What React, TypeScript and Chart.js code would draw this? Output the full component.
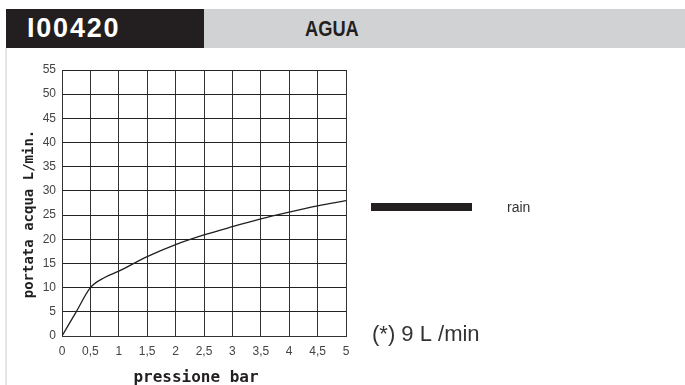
import React, { useEffect, useRef } from "react";
import { Chart, registerables } from "chart.js";

Chart.register(...registerables);

const CODE = "I00420";
const FLUID = "AGUA";
const SERIES_LABEL = "rain";
const NOTE = "(*) 9 L /min";
const X_TITLE = "pressione bar";
const Y_TITLE = "portata acqua L/min.";

const pressure = [0, 0.25, 0.5, 0.75, 1, 1.5, 2, 2.5, 3, 3.5, 4, 4.5, 5];
const flow = [0, 5, 10, 12.1, 13.4, 16.4, 18.9, 20.9, 22.6, 24.2, 25.6, 26.9, 28];

const xTickLabels = ["0", "0,5", "1", "1,5", "2", "2,5", "3", "3,5", "4", "4,5", "5"];
const yTicks = [0, 5, 10, 15, 20, 25, 30, 35, 40, 45, 50, 55];

const INK = "#231f20";

const overlayPlugin = {
  id: "overlay",
  afterDraw(chart: any) {
    const { ctx, chartArea } = chart;
    const midY = (chartArea.top + chartArea.bottom) / 2;
    const midX = (chartArea.left + chartArea.right) / 2;
    // y-axis title
    ctx.save();
    ctx.translate(chartArea.left - 33, midY + 11);
    ctx.rotate(-Math.PI / 2);
    ctx.font = 'bold 14px "DejaVu Sans Mono"';
    ctx.textAlign = "center";
    ctx.textBaseline = "middle";
    ctx.fillStyle = INK;
    ctx.fillText(Y_TITLE, 0, 0);
    ctx.restore();
    // x-axis title
    ctx.save();
    ctx.font = 'bold 16px "DejaVu Sans Mono"';
    ctx.textAlign = "center";
    ctx.textBaseline = "middle";
    ctx.fillStyle = INK;
    ctx.fillText(X_TITLE, midX - 8, chartArea.bottom + 42);
    ctx.restore();
    // legend
    const lx = chartArea.right + 25;
    const ly = chartArea.top + 137;
    ctx.save();
    ctx.fillStyle = INK;
    ctx.fillRect(lx, ly - 4, 101, 8);
    ctx.font = '14px "Liberation Sans"';
    ctx.fillStyle = "#333";
    ctx.textAlign = "left";
    ctx.textBaseline = "middle";
    ctx.fillText(chart.data.datasets[0].label, lx + 136, ly + 1);
    // note
    ctx.font = '22px "Liberation Sans"';
    ctx.textBaseline = "alphabetic";
    ctx.fillStyle = "#333";
    ctx.fillText(NOTE, lx + 1, chartArea.bottom + 5);
    ctx.restore();
  },
};

export default function App() {
  const ref = useRef<HTMLCanvasElement | null>(null);

  useEffect(() => {
    if (!ref.current) return;
    const chart = new Chart(ref.current, {
      type: "line",
      data: {
        datasets: [
          {
            label: SERIES_LABEL,
            data: pressure.map((p, i) => ({ x: p, y: flow[i] })),
            borderColor: INK,
            borderWidth: 1.3,
            pointRadius: 0,
            cubicInterpolationMode: "monotone",
            fill: false,
          },
        ],
      },
      options: {
        animation: false,
        responsive: false,
        devicePixelRatio: 1,
        layout: { padding: { left: 0, top: 70, right: 339, bottom: 0 } },
        plugins: { legend: { display: false }, tooltip: { enabled: false } },
        scales: {
          x: {
            type: "linear",
            min: 0,
            max: 5,
            afterBuildTicks: (scale: any) => {
              scale.ticks = xTickLabels.map((_, i) => ({ value: i * 0.5 }));
            },
            ticks: {
              callback: (_v: any, i: number) => xTickLabels[i],
              color: "#444",
              font: { family: "Liberation Sans", size: 12 },
              padding: 8,
              maxRotation: 0,
              autoSkip: false,
            },
            grid: { color: "#333", lineWidth: 1, drawTicks: false },
            border: { color: "#333", width: 1 },
            afterFit: (scale: any) => {
              scale.height = 49;
            },
          },
          y: {
            type: "linear",
            min: 0,
            max: 55,
            afterBuildTicks: (scale: any) => {
              scale.ticks = yTicks.map((v) => ({ value: v }));
            },
            ticks: {
              color: "#444",
              font: { family: "Liberation Sans", size: 12 },
              padding: 6,
              autoSkip: false,
            },
            grid: { color: "#222", lineWidth: 1, drawTicks: false },
            border: { color: "#333", width: 1 },
            afterFit: (scale: any) => {
              scale.width = 62;
            },
          },
        },
      },
      plugins: [overlayPlugin],
    } as any);
    return () => chart.destroy();
  }, []);

  return (
    <div style={{ position: "absolute", left: 0, top: 0, width: 685, height: 385, background: "#fff", overflow: "hidden" }}>
      <div style={{ position: "absolute", left: 5, top: 48, width: 2, height: 337, background: "#e6e6e6" }} />
      <div style={{ position: "absolute", left: 6, top: 9, width: 198, height: 39, background: INK }} />
      <div style={{ position: "absolute", left: 204, top: 9, width: 481, height: 39, background: "#d1d2d4" }} />
      <div
        style={{
          position: "absolute",
          left: 27,
          top: 9,
          height: 39,
          lineHeight: "39px",
          color: "#fff",
          fontFamily: '"Liberation Sans", Arial, sans-serif',
          fontWeight: 700,
          fontSize: 27,
          letterSpacing: 1.8,
        }}
      >
        {CODE}
      </div>
      <div
        style={{
          position: "absolute",
          left: 305,
          top: 9,
          height: 39,
          lineHeight: "39px",
          color: INK,
          fontFamily: '"Liberation Sans", sans-serif',
          fontWeight: 700,
          fontSize: 22,
          transform: "scaleX(0.83)",
          transformOrigin: "left center",
        }}
      >
        {FLUID}
      </div>
      <canvas ref={ref} width={685} height={385} style={{ position: "absolute", left: 0, top: 0, width: 685, height: 385 }} />
    </div>
  );
}
